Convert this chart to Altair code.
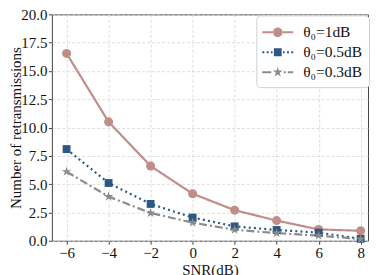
import altair as alt
import pandas as pd

snr = [-6, -4, -2, 0, 2, 4, 6, 8]
series_names = ["θ₀=1dB", "θ₀=0.5dB", "θ₀=0.3dB"]
vals_1db = [16.55, 10.5, 6.6, 4.15, 2.7, 1.78, 1.0, 0.88]
vals_05db = [8.1, 5.1, 3.25, 2.05, 1.27, 0.95, 0.72, 0.17]
vals_03db = [6.1, 3.9, 2.45, 1.6, 0.97, 0.67, 0.45, 0.15]
y_ticks = [0, 2.5, 5, 7.5, 10, 12.5, 15, 17.5, 20]
colors = ["#c08d89", "#2b5984", "#8b8b8b"]

rows = []
for name, vals in zip(series_names, [vals_1db, vals_05db, vals_03db]):
    for x, y in zip(snr, vals):
        rows.append({"snr": x, "value": y, "series": name})
df = pd.DataFrame(rows)

# legend glyph geometry (pixel units, converted to symbol units)
LEG_SIZE = 484
U = 11.0  # sqrt(LEG_SIZE) / 2


def u(px):
    return (px - U) / U


def rect_px(a, b, h=1.0):
    return f"M {u(a):.3f} {-h/U:.3f} L {u(b):.3f} {-h/U:.3f} L {u(b):.3f} {h/U:.3f} L {u(a):.3f} {h/U:.3f} Z "


def circle_px(cx, r):
    c, rr = u(cx), r / U
    return f"M {c-rr:.3f} 0 A {rr:.3f} {rr:.3f} 0 1 0 {c+rr:.3f} 0 A {rr:.3f} {rr:.3f} 0 1 0 {c-rr:.3f} 0 Z "


def square_px(cx, h):
    c, hh = u(cx), h / U
    return f"M {c-hh:.3f} {-hh:.3f} L {c+hh:.3f} {-hh:.3f} L {c+hh:.3f} {hh:.3f} L {c-hh:.3f} {hh:.3f} Z "


STAR_PTS = [(0, -1), (0.2234, -0.3074), (0.9511, -0.309), (0.3614, 0.1174), (0.5878, 0.809),
            (0, 0.38), (-0.5878, 0.809), (-0.3614, 0.1174), (-0.9511, -0.309), (-0.2234, -0.3074)]


def star(s, cx=0.0):
    return "M " + " L ".join(f"{cx + x*s:.4f} {y*s:.4f}" for x, y in STAR_PTS) + " Z "


STAR = star(1)
leg_circle = rect_px(0, 11) + rect_px(20, 31) + circle_px(15.5, 4.8)
leg_square = (rect_px(0, 2) + rect_px(4.3, 6.3) + rect_px(8.6, 10.3)
              + square_px(15.5, 3.9)
              + rect_px(20.7, 22.4) + rect_px(24.7, 26.7) + rect_px(29, 31))
leg_star = rect_px(0, 9) + star(5.2 / U, u(15.5)) + rect_px(21.5, 23.5) + rect_px(25.5, 31)

xscale = alt.Scale(domain=[-6.7, 8.35], nice=False, zero=False)
yscale = alt.Scale(domain=[0, 20], nice=False)
cscale = alt.Scale(domain=series_names, range=colors)

x_enc = alt.X("snr:Q", scale=xscale, title="SNR(dB)",
              axis=alt.Axis(values=snr, format="d", grid=True))
y_enc = alt.Y("value:Q", scale=yscale, title="Number of retransmissions",
              axis=alt.Axis(values=y_ticks, format=".1f",
                            grid=True, titleX=-28, labelOverlap=False))
c_enc = alt.Color("series:N", scale=cscale)

lines = alt.Chart(df).mark_line(strokeWidth=2.2).encode(
    x=x_enc, y=y_enc, color=c_enc,
    strokeDash=alt.StrokeDash("series:N", scale=alt.Scale(domain=series_names,
                              range=[[1, 0], [2, 3.2], [8, 3, 2, 3]]), legend=None),
)

marker_shapes = ["circle", "square", STAR]
marker_sizes = [82, 62, 100]
points = []
for name, shp, sz in zip(series_names, marker_shapes, marker_sizes):
    points.append(
        alt.Chart(df).transform_filter(alt.datum.series == name)
        .mark_point(filled=True, opacity=1, shape=shp, size=sz)
        .encode(x=x_enc, y=y_enc, color=c_enc)
    )

leg = alt.Legend(title=None, orient="none", legendX=205, legendY=1, symbolOpacity=1)
legend_layer = alt.Chart(df).mark_point(filled=True, opacity=0, size=1).encode(
    x=x_enc, y=y_enc,
    color=alt.Color("series:N", scale=cscale, legend=leg),
    shape=alt.Shape("series:N", scale=alt.Scale(domain=series_names,
                    range=[leg_circle, leg_square, leg_star]), legend=leg),
)

chart = alt.layer(legend_layer, lines, *points).properties(
    width=317, height=227,
    autosize=alt.AutoSizeParams(type="none"),
    padding={"left": 44, "top": 6, "right": 6, "bottom": 40},
).configure_view(
    stroke="#444444", strokeWidth=1
).configure_axis(
    labelFont="Liberation Serif", titleFont="Liberation Serif",
    labelFontSize=15, titleFontSize=15, labelColor="#111", titleColor="#111",
    titleFontWeight="normal", domain=False, tickColor="#444", tickSize=3.5,
    labelPadding=1.5, gridColor="#d6d6d6", gridDash=[3, 2], gridWidth=0.8,
).configure_axisX(titlePadding=2).configure_legend(
    labelFont="Liberation Serif", labelFontSize=15.5, labelColor="#111",
    symbolSize=LEG_SIZE, symbolStrokeWidth=0, rowPadding=0, padding=6,
    fillColor="white", strokeColor="#d0d0d0", cornerRadius=4, labelOffset=19,
)

chart.save("out.html", embed_options={"renderer": "svg", "actions": False})
